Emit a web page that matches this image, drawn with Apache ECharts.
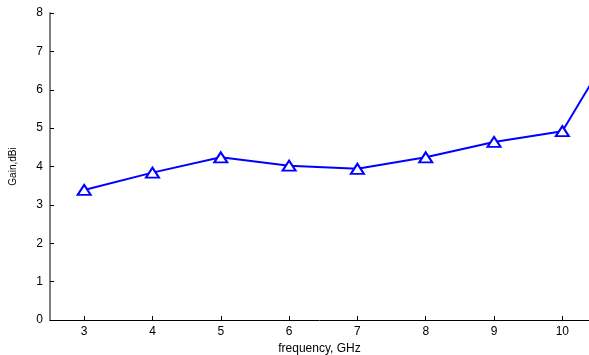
<!DOCTYPE html>
<html>
<head>
<meta charset="utf-8">
<script src="https://cdn.jsdelivr.net/npm/echarts@6/dist/echarts.min.js"></script>
<style>
  html, body { margin: 0; padding: 0; background: #fff; }
  #chart { width: 589px; height: 355px; }
</style>
</head>
<body>
<div id="chart"></div>
<script>
// Measured antenna gain versus frequency
const frequencies = [3, 4, 5, 6, 7, 8, 9, 10, 10.5];
const gainDbi = [3.39, 3.84, 4.24, 4.02, 3.94, 4.24, 4.64, 4.92, 6.4];
const xTicks = [3, 4, 5, 6, 7, 8, 9, 10];
const yTicks = [0, 1, 2, 3, 4, 5, 6, 7, 8];

const font = '"Liberation Sans", Arial, Helvetica, sans-serif';
const blue = '#0000ff';

const points = frequencies.map((f, i) => {
  const item = { value: [f, gainDbi[i]] };
  if (f > 10) item.symbol = 'none';
  return item;
});

const chart = echarts.init(document.getElementById('chart'), null, { renderer: 'canvas' });
chart.setOption({
  animation: false,
  backgroundColor: '#ffffff',
  grid: { left: 50, right: 0, top: 13, bottom: 35, containLabel: false, outerBoundsMode: 'none' },
  xAxis: {
    type: 'value',
    min: 2.5,
    max: 10.39,
    name: 'frequency, GHz',
    nameLocation: 'middle',
    nameGap: 21,
    nameTextStyle: { fontFamily: font, fontSize: 12, color: '#000' },
    axisLine: { show: true, lineStyle: { color: '#000', width: 1 } },
    axisTick: { show: true, inside: true, length: 4, customValues: xTicks, lineStyle: { color: '#000' } },
    axisLabel: { customValues: xTicks, margin: 6, fontFamily: font, fontSize: 12, color: '#000' },
    splitLine: { show: false }
  },
  yAxis: {
    type: 'value',
    min: 0,
    max: 8,
    interval: 1,
    name: 'Gain,dBi',
    nameLocation: 'middle',
    nameGap: 32,
    nameTextStyle: { fontFamily: font, fontSize: 10, color: '#000' },
    axisLine: { show: true, lineStyle: { color: '#808080', width: 2 } },
    axisTick: { show: true, inside: true, length: 4, lineStyle: { color: '#000' } },
    axisLabel: {
      margin: 7, fontFamily: font, fontSize: 12, color: '#000',
      formatter: v => (yTicks.includes(v) ? String(v) : '')
    },
    splitLine: { show: false }
  },
  series: [{
    type: 'line',
    data: points,
    clip: true,
    symbol: 'triangle',
    symbolSize: [13, 10],
    showAllSymbol: true,
    lineStyle: { color: blue, width: 2 },
    itemStyle: { color: '#ffffff', borderColor: blue, borderWidth: 2 }
  }]
});
</script>
</body>
</html>
